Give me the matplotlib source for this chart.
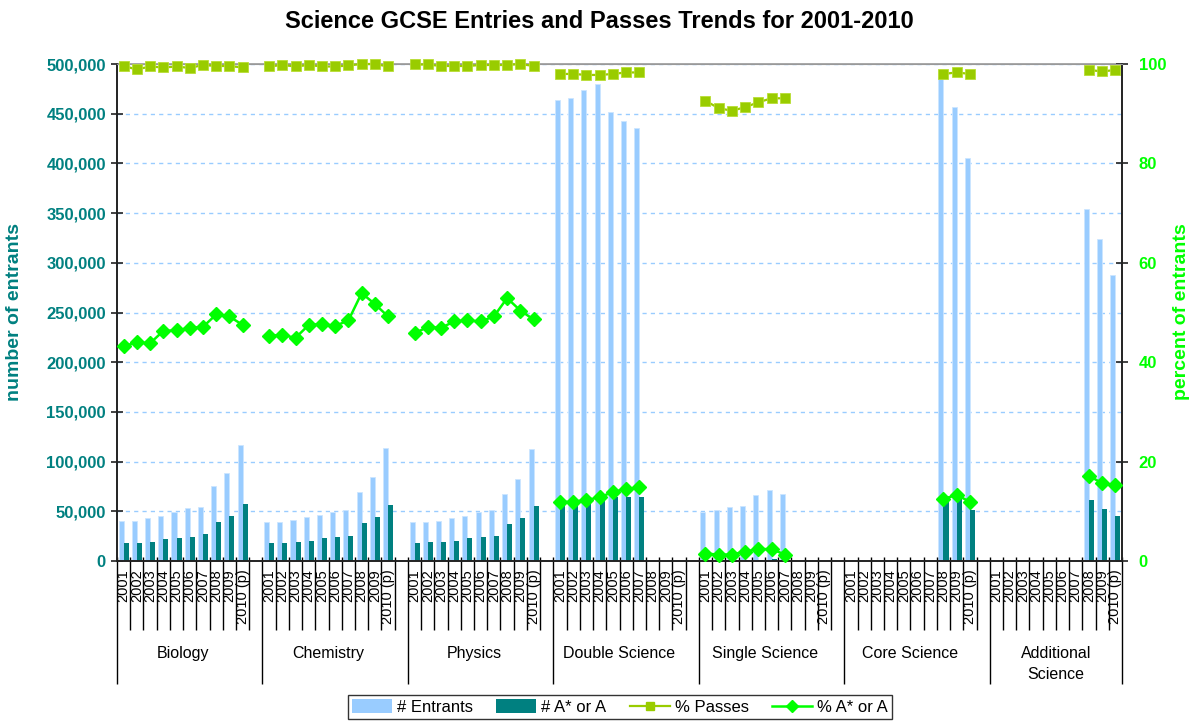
import numpy as np
import matplotlib
matplotlib.use("Agg")
import matplotlib.pyplot as plt
from matplotlib.patches import Patch
from matplotlib.lines import Line2D
from matplotlib.ticker import FuncFormatter

plt.rcParams['font.family'] = ['Liberation Sans', 'DejaVu Sans']

nan = np.nan

# data
years = ["2001", "2002", "2003", "2004", "2005", "2006", "2007", "2008", "2009", "2010 (p)"]
subjects = ["Biology", "Chemistry", "Physics", "Double Science", "Single Science",
            "Core Science", "Additional\nScience"]

entrants = [
    [40500, 40500, 43000, 45600, 49600, 53000, 54600, 75400, 88900, 116400],
    [39200, 39200, 41600, 44300, 46600, 49300, 51600, 69100, 84200, 114000],
    [39200, 39200, 40500, 43000, 45600, 49600, 51600, 67700, 82800, 112700],
    [463800, 466100, 473800, 480200, 451700, 442700, 435300, nan, nan, nan],
    [49600, 51300, 54300, 55300, 66400, 71400, 67700, nan, nan, nan],
    [nan, nan, nan, nan, nan, nan, nan, 486500, 456400, 405100],
    [nan, nan, nan, nan, nan, nan, nan, 354100, 324300, 288100],
]
top_grades = [
    [18400, 18400, 19400, 21800, 23100, 24500, 26800, 39200, 45600, 57000],
    [18100, 18100, 19100, 20400, 23100, 24100, 25500, 37900, 44300, 56600],
    [18100, 19100, 19100, 20400, 23100, 24100, 25500, 36900, 43000, 55300],
    [56300, 56300, 58000, 60700, 64100, 64100, 64100, nan, nan, nan],
    [1000, 900, 900, 1200, 1500, 1700, 900, nan, nan, nan],
    [nan, nan, nan, nan, nan, nan, nan, 60500, 64700, 51300],
    [nan, nan, nan, nan, nan, nan, nan, 61400, 52600, 45300],
]
pct_passes = [
    [99.6, 98.9, 99.5, 99.3, 99.5, 99.2, 99.8, 99.6, 99.6, 99.3],
    [99.5, 99.8, 99.5, 99.8, 99.5, 99.5, 99.7, 100.0, 100.0, 99.5],
    [99.9, 99.9, 99.6, 99.6, 99.6, 99.8, 99.8, 99.8, 100.0, 99.6],
    [98.0, 98.0, 97.8, 97.8, 98.0, 98.3, 98.3, nan, nan, nan],
    [92.6, 91.1, 90.6, 91.3, 92.3, 93.1, 93.1, nan, nan, nan],
    [nan, nan, nan, nan, nan, nan, nan, 98.0, 98.3, 98.0],
    [nan, nan, nan, nan, nan, nan, nan, 98.8, 98.5, 98.8],
]
pct_top = [
    [43.2, 44.0, 43.8, 46.3, 46.4, 46.9, 47.1, 49.6, 49.2, 47.5],
    [45.3, 45.5, 44.9, 47.5, 47.7, 47.3, 48.4, 53.9, 51.7, 49.2],
    [45.8, 47.1, 46.9, 48.2, 48.4, 48.2, 49.2, 52.9, 50.4, 48.6],
    [11.9, 11.9, 12.3, 12.8, 13.9, 14.5, 14.8, nan, nan, nan],
    [1.5, 1.3, 1.3, 1.9, 2.4, 2.4, 1.3, nan, nan, nan],
    [nan, nan, nan, nan, nan, nan, nan, 12.5, 13.3, 11.9],
    [nan, nan, nan, nan, nan, nan, nan, 17.2, 15.6, 15.2],
]


# one empty slot after every group except the last one
def flatten(groups):
    out = []
    for i, g in enumerate(groups):
        out += list(g)
        if i < len(groups) - 1:
            out.append(nan)
    return np.array(out, dtype=float)


ent = flatten(entrants)
top = flatten(top_grades)
passes = flatten(pct_passes)
ptop = flatten(pct_top)
tick_text = []
for i in range(len(subjects)):
    tick_text += years
    if i < len(subjects) - 1:
        tick_text.append("")
x = np.arange(len(tick_text))

teal = '#008080'
light = '#99CCFF'
olive = '#99CC00'
green = '#00FF00'

fig = plt.figure(figsize=(11.97, 7.25), dpi=100)
ax = fig.add_axes([117 / 1197, 1 - 561 / 725, 1005 / 1197, 497 / 725])

w = 0.38
ax.bar(x - w / 2, ent, width=w, color=light, edgecolor='#CCE5FF', linewidth=0.6, zorder=2)
ax.bar(x + w / 2, top, width=w, color=teal, linewidth=0, zorder=2)

ax.set_xlim(-0.5, len(x) - 0.5)
ax.set_ylim(0, 500000)
ax.set_yticks(np.arange(0, 500001, 50000))
ax.yaxis.set_major_formatter(FuncFormatter(lambda v, p: f"{int(v):,}"))
ax.tick_params(axis='y', direction='inout', length=8, width=1.2, colors='#222222',
               labelcolor=teal, labelsize=12, pad=4)
for t in ax.get_yticklabels():
    t.set_fontweight('bold')
ax.yaxis.grid(True, linestyle=(0, (3, 3)), color='#99CCFF', linewidth=1)
ax.set_axisbelow(True)

ax.set_xticks(x)
ax.set_xticklabels(tick_text, rotation=90, fontsize=10.5)
ax.tick_params(axis='x', length=0, pad=6)

for s in ['left', 'right', 'bottom']:
    ax.spines[s].set_color('#222222')
    ax.spines[s].set_linewidth(1.2)
ax.spines['top'].set_color('#999999')
ax.spines['top'].set_linewidth(1.2)

# category boundary marks below the axis
trans = ax.get_xaxis_transform()
bounds = np.arange(len(x) + 1) - 0.5
group_idx = [0] + [11 * (i + 1) for i in range(len(subjects) - 1)] + [len(x)]
short = [b for i, b in enumerate(bounds) if i not in group_idx]
longb = [bounds[i] for i in group_idx]
ax.vlines(short, -0.139, 0.008, transform=trans, colors='black', linewidth=1, clip_on=False)
ax.vlines(longb, -0.248, 0.008, transform=trans, colors='black', linewidth=1, clip_on=False)

for i, name in enumerate(subjects):
    cx = 11 * i + 4.5
    ax.text(cx, -0.172, name, transform=trans, ha='center', va='top', fontsize=11.5,
            linespacing=1.5)

ax2 = ax.twinx()
ax2.set_ylim(0, 100)
ax2.set_yticks(np.arange(0, 101, 20))
ax2.tick_params(axis='y', direction='inout', length=8, width=1.2, colors='#222222',
                labelcolor=green, labelsize=12, pad=8)
for t in ax2.get_yticklabels():
    t.set_fontweight('bold')
for s in ['left', 'right', 'bottom']:
    ax2.spines[s].set_color('#222222')
    ax2.spines[s].set_linewidth(1.2)
ax2.spines['top'].set_color('#999999')

ax2.plot(x, passes, color=olive, linewidth=1.6, marker='s', markersize=7.5,
         markeredgecolor='#B8DD33', markeredgewidth=0.6, clip_on=False, zorder=3)
ax2.plot(x, ptop, color=green, linewidth=1.8, marker='D', markersize=7,
         markeredgecolor=green, clip_on=False, zorder=4)

fig.text(599 / 1197, 1 - 22 / 725, "Science GCSE Entries and Passes Trends for 2001-2010",
         ha='center', va='center', fontsize=17, fontweight='bold')
fig.text(15 / 1197, 1 - 312 / 725, "number of entrants", rotation=90, ha='center',
         va='center', fontsize=14, fontweight='bold', color=teal)
fig.text(1181 / 1197, 1 - 312 / 725, "percent of entrants", rotation=90, ha='center',
         va='center', fontsize=14, fontweight='bold', color=green)

handles = [Patch(facecolor=light, edgecolor='none'),
           Patch(facecolor=teal, edgecolor='none'),
           Line2D([], [], color=olive, linewidth=1.6, marker='s', markersize=6),
           Line2D([], [], color=green, linewidth=1.8, marker='D', markersize=6)]
fig.legend(handles, ["# Entrants", "# A* or A", "% Passes", "% A* or A"],
           loc='upper center', bbox_to_anchor=(620 / 1197, 1 - 695 / 725), ncol=4,
           fancybox=False, edgecolor='#333333', framealpha=1, fontsize=12,
           handlelength=2.4, handleheight=0.9, columnspacing=1.4, handletextpad=0.3,
           borderpad=0.25, borderaxespad=0)

fig.savefig("out.png", dpi=100)
